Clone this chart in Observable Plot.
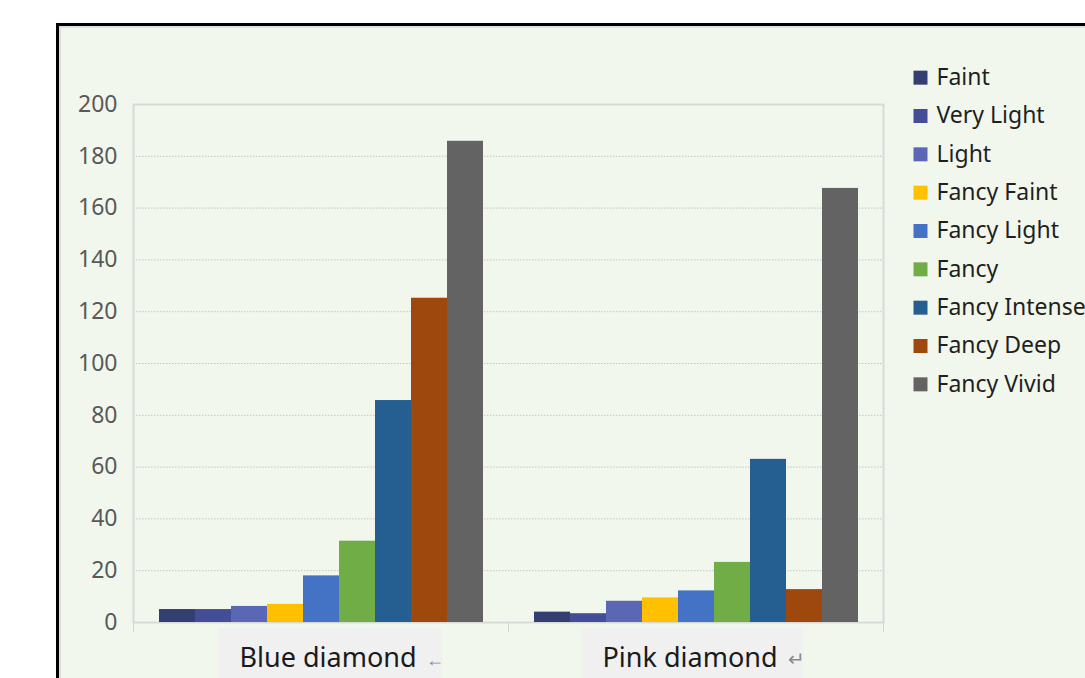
<!DOCTYPE html>
<html>
<head>
<meta charset="utf-8">
<script src="https://cdn.jsdelivr.net/npm/d3@7"></script>
<script src="https://cdn.jsdelivr.net/npm/@observablehq/plot@0.6"></script>
<style>
  html, body { margin: 0; padding: 0; background: #ffffff; width: 1085px; height: 678px; overflow: hidden; }
  #stage { position: relative; width: 1085px; height: 678px; font-family: "Noto Sans", "Open Sans", sans-serif; }
  #panel { position: absolute; left: 56px; top: 23px; width: 1100px; height: 720px; border: 3px solid #000; background: #F2F7EE; box-shadow: inset 2px 2px 0 #dedede; }
  .layer { position: absolute; left: 0; top: 0; }
  #legend { position: absolute; left: 913px; top: 58px; }
</style>
</head>
<body>
<div id="stage">
  <div id="panel"></div>
  <div id="bg" class="layer"></div>
  <div id="fg" class="layer"></div>
  <div id="legend"></div>
</div>
<script>
// ---- data ----
const groups = ["Blue diamond", "Pink diamond"];
const grades = ["Faint", "Very Light", "Light", "Fancy Faint", "Fancy Light", "Fancy", "Fancy Intense", "Fancy Deep", "Fancy Vivid"];
const blueValues = [5, 5, 6.2, 7, 18, 31.4, 85.7, 125.2, 185.8];
const pinkValues = [4, 3.4, 8.2, 9.5, 12.2, 23.2, 63, 12.7, 167.6];
const colors = ["#333F70", "#434E96", "#5B67B4", "#FFC000", "#4472C4", "#70AD47", "#255E91", "#9E480E", "#636363"];
const yTicks = [0, 20, 40, 60, 80, 100, 120, 140, 160, 180, 200];
const gridTicks = [20, 40, 60, 80, 100, 120, 140, 160, 180];
const groupTicks = [0, 1, 2];
const paraMarks = ["\u2190", "\u21B5"];

const data = [];
grades.forEach((g, i) => {
  data.push({group: groups[0], grade: g, value: blueValues[i]});
  data.push({group: groups[1], grade: g, value: pinkValues[i]});
});

const W = 1085, H = 678;
const M = {left: 133, right: 202, top: 104, bottom: 56};
const font = '"Noto Sans", "Open Sans", sans-serif';

// ---- background layer: frame, grid, group ticks ----
const bg = Plot.plot({
  width: W, height: H,
  marginLeft: M.left, marginRight: M.right, marginTop: M.top, marginBottom: M.bottom,
  style: {background: "transparent", color: "#d4d4d4", fontFamily: font, overflow: "visible"},
  x: {domain: [0, 2], ticks: groupTicks, tickSize: 10, tickFormat: () => "", label: null},
  y: {domain: [0, 200], axis: null},
  marks: [
    Plot.ruleY(gridTicks, {stroke: "#c4c4c4", strokeDasharray: "1.5,1.5", strokeWidth: 1}),
    Plot.frame({stroke: "#d9d9d9", strokeWidth: 2})
  ]
});
document.getElementById("bg").appendChild(bg);

// ---- foreground layer: bars, y labels, group labels ----
const fg = Plot.plot({
  width: W, height: H,
  marginLeft: M.left, marginRight: M.right, marginTop: M.top, marginBottom: M.bottom,
  style: {background: "transparent", color: "#595959", fontFamily: font, fontSize: "23px", overflow: "visible"},
  fx: {domain: groups, padding: 0, axis: null, label: null},
  x: {domain: grades, paddingInner: 0, paddingOuter: 0.7, axis: null},
  y: {domain: [0, 200], ticks: yTicks, tickSize: 0, tickPadding: 16, label: null},
  color: {domain: grades, range: colors},
  marks: [
    Plot.barY(data, {fx: "group", x: "grade", y: "value", fill: "grade"}),
    Plot.text([groups[0]], {fx: d => d, text: d => d, frameAnchor: "bottom", lineAnchor: "middle", dy: 36, dx: 7, fontSize: 27, fill: "#1a1a1a", className: "glabel"}),
    Plot.text([groups[1]], {fx: d => d, text: d => d, frameAnchor: "bottom", lineAnchor: "middle", dy: 36, dx: -6, fontSize: 27, fill: "#1a1a1a", className: "glabel"}),
    Plot.text([groups[0]], {fx: d => d, text: () => paraMarks[0], frameAnchor: "bottom", lineAnchor: "middle", dy: 38, dx: 114, fontSize: 18, fill: "#8a8a8a", className: "pmark"}),
    Plot.text([groups[1]], {fx: d => d, text: () => paraMarks[1], frameAnchor: "bottom", lineAnchor: "middle", dy: 37, dx: 100, fontSize: 20, fill: "#8a8a8a", className: "pmark"})
  ]
});
document.getElementById("fg").appendChild(fg);

// shaded boxes behind group labels
(function () {
  const svg = d3.select(fg);
  const labels = fg.querySelectorAll(".glabel text");
  const marks = fg.querySelectorAll(".pmark text");
  const s = fg.getBoundingClientRect();
  const boxes = [];
  labels.forEach((t, i) => {
    const r = t.getBoundingClientRect();
    const m = marks[i] ? marks[i].getBoundingClientRect() : r;
    boxes.push({x1: r.left - s.left - 21, x2: m.right - s.left - 2});
  });
  const g = svg.insert("g", ":first-child");
  boxes.forEach(b => {
    g.append("rect").attr("x", b.x1).attr("y", 628).attr("width", b.x2 - b.x1).attr("height", 60).attr("fill", "#F0F0F0");
  });
})();

// ---- legend ----
const legend = Plot.plot({
  width: 170, height: 345, margin: 0,
  style: {background: "transparent", fontFamily: font, overflow: "visible"},
  y: {type: "band", domain: grades, padding: 0, round: false, axis: null},
  color: {domain: grades, range: colors},
  marks: [
    Plot.dot(grades, {y: d => d, frameAnchor: "left", dx: 7, symbol: "square", r: 7.9, fill: d => d, stroke: null}),
    Plot.text(grades, {y: d => d, frameAnchor: "left", dx: 23, text: d => d, fontSize: 23, fill: "#1f1f1f", textAnchor: "start"})
  ]
});
document.getElementById("legend").appendChild(legend);
</script>
</body>
</html>
